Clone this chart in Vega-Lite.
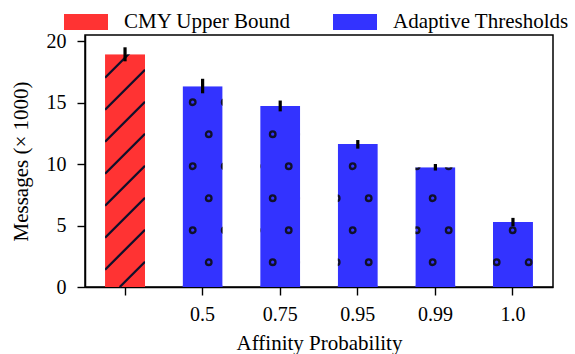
{
  "$schema": "https://vega.github.io/schema/vega-lite/v6.json",
  "width": 468,
  "height": 252,
  "autosize": {"type": "none"},
  "padding": {"left": 85, "top": 35, "right": 22, "bottom": 67},
  "config": {
    "font": "Liberation Serif",
    "view": {"stroke": "black", "strokeWidth": 1.5},
    "axis": {
      "labelFont": "Liberation Serif", "titleFont": "Liberation Serif",
      "labelFontSize": 20, "titleFontSize": 21, "titleFontWeight": "normal",
      "labelColor": "black", "titleColor": "black",
      "tickColor": "black", "domainColor": "black", "tickSize": 8, "tickWidth": 1.4,
      "domainWidth": 1.5, "grid": false, "zindex": 1
    }
  },
  "data": {"values": [
    {"p": "CMY", "series": "CMY Upper Bound", "v": 18.92, "lo": 18.35, "hi": 19.49},
    {"p": "0.5", "series": "Adaptive Thresholds", "v": 16.33, "lo": 15.75, "hi": 16.93},
    {"p": "0.75", "series": "Adaptive Thresholds", "v": 14.72, "lo": 14.28, "hi": 15.16},
    {"p": "0.95", "series": "Adaptive Thresholds", "v": 11.63, "lo": 11.25, "hi": 11.95},
    {"p": "0.99", "series": "Adaptive Thresholds", "v": 9.73, "lo": 9.47, "hi": 10.0},
    {"p": "1.0", "series": "Adaptive Thresholds", "v": 5.28, "lo": 4.95, "hi": 5.62}
  ]},
  "encoding": {
    "x": {
      "field": "p", "type": "nominal", "sort": null,
      "scale": {"domain": ["CMY", "0.5", "0.75", "0.95", "0.99", "1.0"], "paddingInner": 0.484, "paddingOuter": 0.258},
      "axis": {"title": "Affinity Probability", "labelAngle": 0, "labelPadding": 9, "titlePadding": 8,
               "labelExpr": "datum.value == 'CMY' ? '' : datum.value"}
    }
  },
  "layer": [
    {
      "mark": {"type": "bar", "opacity": 1},
      "encoding": {
        "y": {"field": "v", "type": "quantitative",
              "scale": {"domain": [0, 20.49], "nice": false, "zero": true},
              "axis": {"title": "Messages (× 1000)", "values": [0, 5, 10, 15, 20], "labelPadding": 11, "titlePadding": 15}},
        "color": {
          "field": "series", "type": "nominal",
          "scale": {"domain": ["CMY Upper Bound", "Adaptive Thresholds"], "range": ["#ff3333", "#3333ff"]},
          "legend": {
            "orient": "none", "legendX": -21, "legendY": -35, "direction": "horizontal",
            "title": null, "padding": 0,
            "symbolType": "M-1,-0.3636L1,-0.3636L1,0.3636L-1,0.3636Z",
            "symbolSize": 1936, "symbolStrokeWidth": 0, "symbolOpacity": 1,
            "labelFont": "Liberation Serif", "labelFontSize": 21, "labelColor": "black",
            "labelOffset": 16, "columnPadding": 42, "labelLimit": 400
          }
        }
      }
    },
    {
      "mark": {"type": "point", "filled": false, "size": 4, "stroke": "#10102a", "strokeWidth": 2.3, "opacity": 1},
      "encoding": {
        "y": {"datum": 0, "type": "quantitative"},
        "shape": {
          "field": "p", "type": "nominal", "legend": null,
          "scale": {
            "domain": ["CMY", "0.5", "0.75", "0.95", "0.99", "1.0"],
            "range": [
              "M-20,-209.3L10.7,-240M-20,-177.3L20,-217.3M-20,-145.3L20,-185.3M-20,-113.3L20,-153.3M-20,-81.3L20,-121.3M-20,-49.3L20,-89.3M-20,-17.3L20,-57.3M-5.3,0L20,-25.3",
              "M-12.7,-184.8a2.8,2.8 0 1,0 5.6,0a2.8,2.8 0 1,0 -5.6,0M19.3,-184.8a2.8,2.8 0 1,0 5.6,0a2.8,2.8 0 1,0 -5.6,0M-12.7,-120.8a2.8,2.8 0 1,0 5.6,0a2.8,2.8 0 1,0 -5.6,0M19.3,-120.8a2.8,2.8 0 1,0 5.6,0a2.8,2.8 0 1,0 -5.6,0M-12.7,-56.8a2.8,2.8 0 1,0 5.6,0a2.8,2.8 0 1,0 -5.6,0M19.3,-56.8a2.8,2.8 0 1,0 5.6,0a2.8,2.8 0 1,0 -5.6,0M3.3,-152.8a2.8,2.8 0 1,0 5.6,0a2.8,2.8 0 1,0 -5.6,0M3.3,-88.8a2.8,2.8 0 1,0 5.6,0a2.8,2.8 0 1,0 -5.6,0M3.3,-24.8a2.8,2.8 0 1,0 5.6,0a2.8,2.8 0 1,0 -5.6,0",
              "M-26.3,-120.8a2.8,2.8 0 1,0 5.6,0a2.8,2.8 0 1,0 -5.6,0M5.7,-120.8a2.8,2.8 0 1,0 5.6,0a2.8,2.8 0 1,0 -5.6,0M-26.3,-56.8a2.8,2.8 0 1,0 5.6,0a2.8,2.8 0 1,0 -5.6,0M5.7,-56.8a2.8,2.8 0 1,0 5.6,0a2.8,2.8 0 1,0 -5.6,0M-10.3,-152.8a2.8,2.8 0 1,0 5.6,0a2.8,2.8 0 1,0 -5.6,0M21.7,-152.8a2.8,2.8 0 1,0 5.6,0a2.8,2.8 0 1,0 -5.6,0M-10.3,-88.8a2.8,2.8 0 1,0 5.6,0a2.8,2.8 0 1,0 -5.6,0M21.7,-88.8a2.8,2.8 0 1,0 5.6,0a2.8,2.8 0 1,0 -5.6,0M-10.3,-24.8a2.8,2.8 0 1,0 5.6,0a2.8,2.8 0 1,0 -5.6,0M21.7,-24.8a2.8,2.8 0 1,0 5.6,0a2.8,2.8 0 1,0 -5.6,0",
              "M-7.9,-120.8a2.8,2.8 0 1,0 5.6,0a2.8,2.8 0 1,0 -5.6,0M-7.9,-56.8a2.8,2.8 0 1,0 5.6,0a2.8,2.8 0 1,0 -5.6,0M-23.9,-88.8a2.8,2.8 0 1,0 5.6,0a2.8,2.8 0 1,0 -5.6,0M8.1,-88.8a2.8,2.8 0 1,0 5.6,0a2.8,2.8 0 1,0 -5.6,0M-23.9,-24.8a2.8,2.8 0 1,0 5.6,0a2.8,2.8 0 1,0 -5.6,0M8.1,-24.8a2.8,2.8 0 1,0 5.6,0a2.8,2.8 0 1,0 -5.6,0",
              "M-21.5,-120.8a2.8,2.8 0 1,0 5.6,0a2.8,2.8 0 1,0 -5.6,0M10.5,-120.8a2.8,2.8 0 1,0 5.6,0a2.8,2.8 0 1,0 -5.6,0M-21.5,-56.8a2.8,2.8 0 1,0 5.6,0a2.8,2.8 0 1,0 -5.6,0M10.5,-56.8a2.8,2.8 0 1,0 5.6,0a2.8,2.8 0 1,0 -5.6,0M-5.5,-88.8a2.8,2.8 0 1,0 5.6,0a2.8,2.8 0 1,0 -5.6,0M-5.5,-24.8a2.8,2.8 0 1,0 5.6,0a2.8,2.8 0 1,0 -5.6,0",
              "M-3.1,-56.8a2.8,2.8 0 1,0 5.6,0a2.8,2.8 0 1,0 -5.6,0M-19.1,-24.8a2.8,2.8 0 1,0 5.6,0a2.8,2.8 0 1,0 -5.6,0M12.9,-24.8a2.8,2.8 0 1,0 5.6,0a2.8,2.8 0 1,0 -5.6,0"
            ]
          }
        }
      }
    },
    {
      "mark": {"type": "bar", "fill": "white", "width": 10, "xOffset": 25, "opacity": 1},
      "encoding": {"y": {"datum": 0.12, "type": "quantitative"}, "y2": {"datum": 20.3}}
    },
    {
      "mark": {"type": "bar", "fill": "white", "width": 10, "xOffset": -25, "opacity": 1},
      "encoding": {"y": {"datum": 0.12, "type": "quantitative"}, "y2": {"datum": 20.3}}
    },
    {
      "mark": {"type": "bar", "fill": "white", "width": 60, "opacity": 1},
      "encoding": {"y": {"field": "v", "type": "quantitative"}, "y2": {"datum": 20.3}}
    },
    {
      "mark": {"type": "rule", "color": "black", "strokeWidth": 3.2},
      "encoding": {"y": {"field": "lo", "type": "quantitative"}, "y2": {"field": "hi"}}
    }
  ]
}
